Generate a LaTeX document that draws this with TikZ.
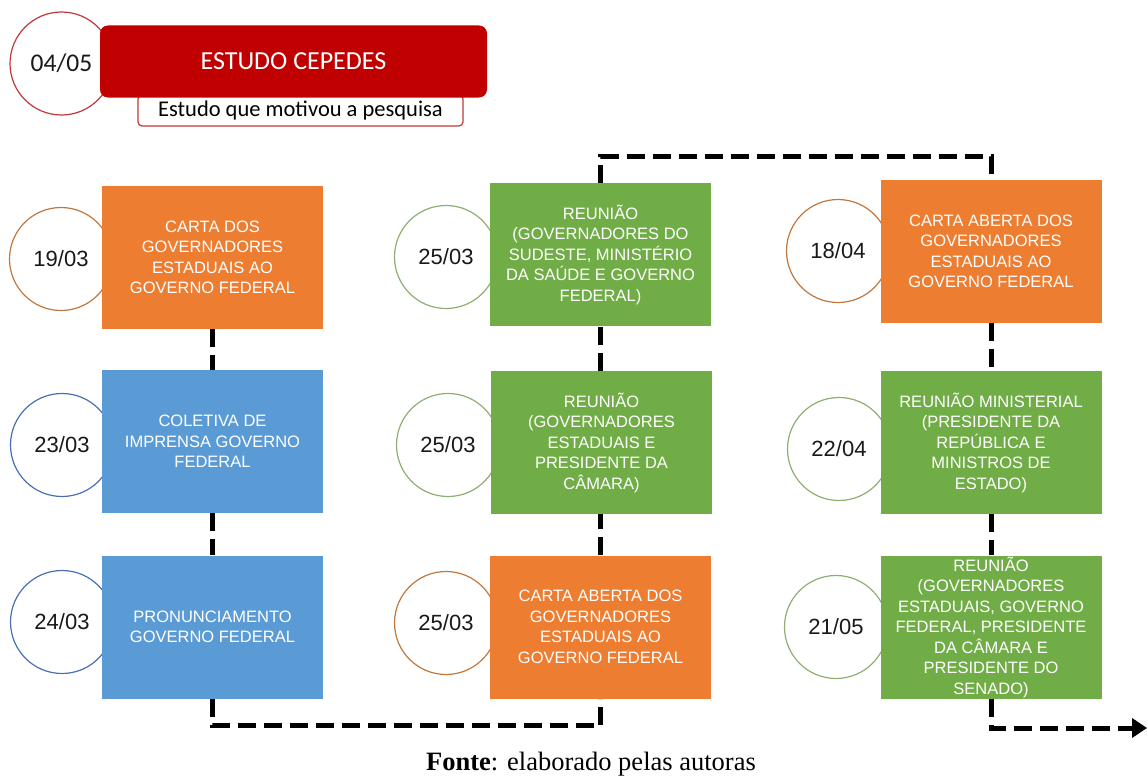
\documentclass[tikz,border=0pt]{standalone}
\usepackage{fontspec}
\setmainfont{Liberation Sans}
\newfontfamily\calib{Carlito}
\newfontfamily\timesf{Liberation Serif}
\usetikzlibrary{arrows.meta}
\definecolor{corange}{HTML}{ED7D31}
\definecolor{cblue}{HTML}{5B9BD5}
\definecolor{cgreen}{HTML}{70AD47}
\definecolor{cred}{HTML}{C00000}
\definecolor{lorange}{HTML}{C0783F}
\definecolor{lblue}{HTML}{4A6FB5}
\definecolor{lgreen}{HTML}{8FAF72}
\definecolor{lred}{HTML}{C0393B}
\tikzset{
  x=1pt, y=-1pt,
  datec/.style={circle, draw, line width=1.2pt, minimum size=103pt, inner sep=0pt,
     font=\fontsize{22}{26}\selectfont, text=black!90},
  evbox/.style={rectangle, minimum width=221pt, minimum height=143pt, inner sep=0pt,
     text=white, align=center, font=\fontsize{16.5}{20.5}\selectfont},
  conn/.style={line width=5pt, draw=black, dash pattern=on 18pt off 8pt},
}
\begin{document}
\begin{tikzpicture}
\useasboundingbox (0,0) rectangle (1147,776);
% header
\node[datec, draw=lred, minimum size=103pt, font=\calib\fontsize{25.5}{30}\selectfont] (c0) at (61.5,63.5) {04/05};
\node[rectangle, rounded corners=4pt, draw=lred, line width=1.2pt, fill=white,
  minimum width=325pt, minimum height=31pt, inner sep=0pt,
  font=\calib\fontsize{22.5}{26}\selectfont] (sub) at (300.5,110.5) {\raisebox{-2pt}{Estudo que motivou a pesquisa}};
\node[rectangle, rounded corners=8pt, fill=cred, minimum width=387pt, minimum height=72pt,
  inner sep=0pt, text=white, font=\calib\fontsize{26}{30}\selectfont] (hd) at (293.5,61.5) {ESTUDO CEPEDES};
% circles
\node[datec, draw=lorange] (d1) at (61,259) {19/03};
\node[datec, draw=lblue] (d2) at (62,445) {23/03};
\node[datec, draw=lblue] (d3) at (62,622) {24/03};
\node[datec, draw=lgreen] (d4) at (446,257) {25/03};
\node[datec, draw=lgreen] (d5) at (448,445) {25/03};
\node[datec, draw=lorange] (d6) at (446,623) {25/03};
\node[datec, draw=lorange] (d7) at (838,251) {18/04};
\node[datec, draw=lgreen] (d8) at (839,449) {22/04};
\node[datec, draw=lgreen] (d9) at (836,627) {21/05};
% boxes
\node[evbox, fill=corange] (b1) at (212.5,257.5) {CARTA DOS\\GOVERNADORES\\ESTADUAIS AO\\GOVERNO FEDERAL};
\node[evbox, fill=cblue] (b2) at (212.5,441.5) {COLETIVA DE\\IMPRENSA GOVERNO\\FEDERAL};
\node[evbox, fill=cblue] (b3) at (212.5,627) {PRONUNCIAMENTO\\GOVERNO FEDERAL};
\node[evbox, fill=cgreen] (b4) at (600.5,254.5) {REUNIÃO\\(GOVERNADORES DO\\SUDESTE, MINISTÉRIO\\DA SAÚDE E GOVERNO\\FEDERAL)};
\node[evbox, fill=cgreen] (b5) at (601.5,442.5) {REUNIÃO\\(GOVERNADORES\\ESTADUAIS E\\PRESIDENTE DA\\CÂMARA)};
\node[evbox, fill=corange] (b6) at (600.5,627) {CARTA ABERTA DOS\\GOVERNADORES\\ESTADUAIS AO\\GOVERNO FEDERAL};
\node[evbox, fill=corange] (b7) at (991,251.5) {CARTA ABERTA DOS\\GOVERNADORES\\ESTADUAIS AO\\GOVERNO FEDERAL};
\node[evbox, fill=cgreen] (b8) at (991,442.5) {REUNIÃO MINISTERIAL\\(PRESIDENTE DA\\REPÚBLICA E\\MINISTROS DE\\ESTADO)};
\node[evbox, fill=cgreen] (b9) at (991,627) {REUNIÃO\\(GOVERNADORES\\ESTADUAIS, GOVERNO\\FEDERAL, PRESIDENTE\\DA CÂMARA E\\PRESIDENTE DO\\SENADO)};
% connectors
\draw[conn] (b1.south) -- (b2.north);
\draw[conn] (b2.south) -- (b3.north);
\draw[conn] (b3.south) -- ++(0,27) -| (b6.south);
\draw[conn] (b6.north) -- (b6.north |- b5.south);
\draw[conn] (b6.north |- b5.north) -- (b4.south);
\draw[conn] (b4.north) -- ++(0,-26) -| (b7.north);
\draw[conn] (b7.south) -- (b8.north);
\draw[conn] (b8.south) -- (b9.north);
\coordinate (aend) at (1147,728);
\draw[conn, -{Triangle[length=15pt,width=19pt]}] (b9.south) |- (aend);
% caption
\node[font=\timesf\fontsize{26.5}{30}\selectfont, inner sep=0pt] (cap) at (591,764) {\textbf{Fonte}: elaborado pelas autoras};
\end{tikzpicture}
\end{document}
